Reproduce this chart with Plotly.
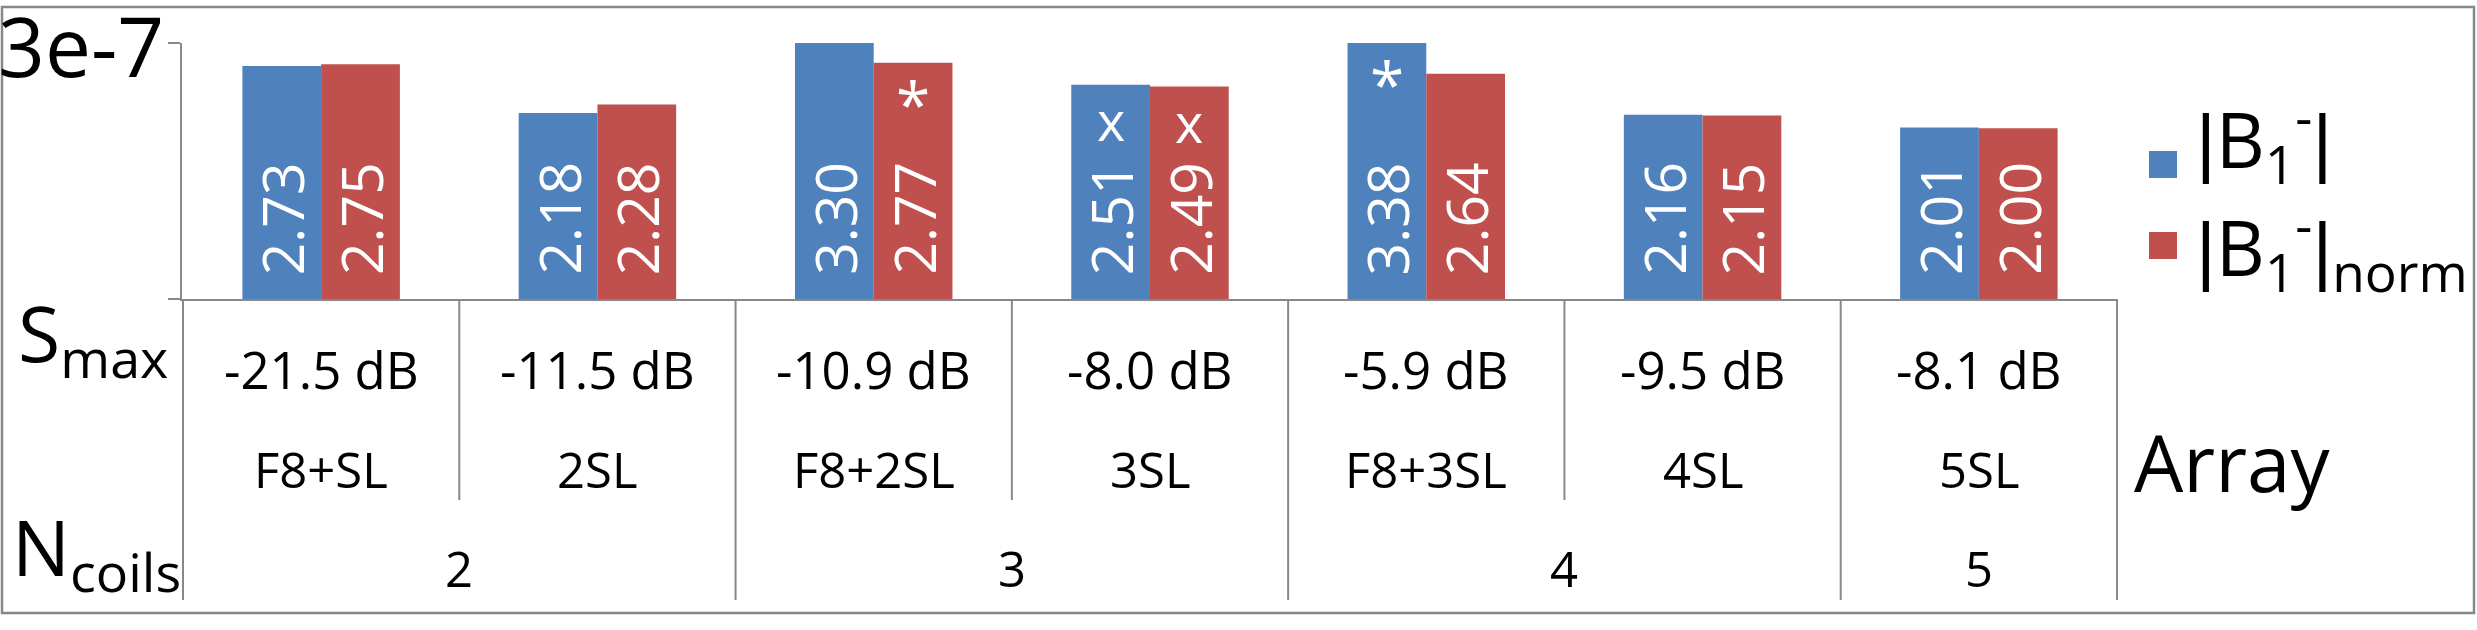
import pandas as pd
import plotly.graph_objects as go

# ----------------------------------
# Data
# ----------------------------------

arrays = ["F8+SL", "2SL", "F8+2SL", "3SL", "F8+3SL", "4SL", "5SL"]
s_max = ["-21.5 dB", "-11.5 dB", "-10.9 dB", "-8.0 dB", "-5.9 dB", "-9.5 dB", "-8.1 dB"]
n_coils = [2, 2, 3, 3, 4, 4, 5]

b1 = [2.73, 2.18, 3.30, 2.51, 3.38, 2.16, 2.01]
b1_norm = [2.75, 2.28, 2.77, 2.49, 2.64, 2.15, 2.00]
b1_marks = ["", "", "", "x", "*", "", ""]
b1_norm_marks = ["", "", "*", "x", "", "", ""]

scale = 1e-7
y_top = 3.0
y_tick_label = "3e-7"

# ----------------------------------
# Style
# ----------------------------------

W, H = 2477, 630
BLUE = "#4F81BD"
RED = "#C0504D"
GRAY = "#888888"
FONT = "Open Sans"
BARGAP = 0.43
BAR = '<span style="font-family:Liberation Sans">|</span>'


def px(x):
    return x / W


def py(y):
    return 1 - y / H


fig = go.Figure()

series = [
    (f"{BAR}B<sub>1</sub><sup>-</sup>{BAR}", b1, b1_marks, BLUE, -1),
    (f"{BAR}B<sub>1</sub><sup>-</sup>{BAR}<sub>norm</sub>", b1_norm, b1_norm_marks, RED, 1),
]

for name, vals, marks, color, side in series:
    fig.add_trace(go.Bar(
        x=arrays,
        y=[v * scale for v in vals],
        name=name,
        marker_color=color,
        marker_line_width=0,
        showlegend=False,
    ))

annotations = []
shapes = []

# value labels and markers inside the bars
off = (1 - BARGAP) / 4
mark_size = {"*": 62, "x": 54}
for name, vals, marks, color, side in series:
    for i, (v, m) in enumerate(zip(vals, marks)):
        annotations.append(dict(
            x=i + side * off, y=0, xref="x", yref="y",
            text=f"{v:.2f}", textangle=-90, showarrow=False,
            xanchor="center", yanchor="bottom", yshift=22,
            font=dict(family=FONT, size=57, color="white"),
        ))
        if m:
            annotations.append(dict(
                x=i + side * off, y=min(v, y_top) * scale, xref="x", yref="y",
                text=m, showarrow=False,
                xanchor="center", yanchor="top", yshift=4,
                font=dict(family=FONT, size=mark_size[m], color="white"),
            ))

# y tick label, set big in the corner
annotations.append(dict(
    x=0, y=y_top * scale, xref="paper", yref="y",
    text=y_tick_label, showarrow=False,
    xanchor="left", yanchor="middle", xshift=-4, yshift=-2,
    font=dict(family=FONT, size=82, color="black"),
))

# table below the axis
for i, (a, s) in enumerate(zip(arrays, s_max)):
    annotations.append(dict(
        x=i, y=py(369), xref="x", yref="paper", text=s, showarrow=False,
        xanchor="center", yanchor="middle",
        font=dict(family=FONT, size=51, color="black"),
    ))
    annotations.append(dict(
        x=i, y=py(469), xref="x", yref="paper", text=a, showarrow=False,
        xanchor="center", yanchor="middle",
        font=dict(family=FONT, size=49, color="black"),
    ))

groups = pd.DataFrame({"idx": range(len(arrays)), "n": n_coils})
centers = groups.groupby("n")["idx"].mean()
for n, c in centers.items():
    annotations.append(dict(
        x=c, y=py(568), xref="x", yref="paper", text=str(n), showarrow=False,
        xanchor="center", yanchor="middle",
        font=dict(family=FONT, size=49, color="black"),
    ))

for k in range(len(arrays) + 1):
    edge = k == 0 or k == len(arrays) or n_coils[k] != n_coils[k - 1]
    shapes.append(dict(
        type="line", xref="x", yref="paper",
        x0=k - 0.5, x1=k - 0.5, y0=py(299), y1=py(600 if edge else 500),
        line=dict(color=GRAY, width=2),
    ))

# row / axis titles
annotations += [
    dict(x=px(16), y=py(278), xref="paper", yref="paper",
         text="S<sub>max</sub>", showarrow=False, xanchor="left", yanchor="top",
         font=dict(family=FONT, size=77, color="black")),
    dict(x=px(10), y=py(492), xref="paper", yref="paper",
         text="N<sub>coils</sub>", showarrow=False, xanchor="left", yanchor="top",
         font=dict(family=FONT, size=77, color="black")),
    dict(x=px(2132), y=py(462), xref="paper", yref="paper",
         text="Array", showarrow=False, xanchor="left", yanchor="middle",
         font=dict(family=FONT, size=78, color="black")),
]

# legend
for k, (name, vals, marks, color, side) in enumerate(series):
    top = 151 + 81 * k
    shapes.append(dict(
        type="rect", xref="paper", yref="paper",
        x0=px(2149), x1=px(2177), y0=py(top + 27), y1=py(top),
        fillcolor=color, line_width=0,
    ))
    annotations.append(dict(
        x=px(2194), y=py(77 + 108 * k), xref="paper", yref="paper",
        text=name, showarrow=False, xanchor="left", yanchor="top",
        font=dict(family=FONT, size=76, color="black"),
    ))

# outer frame
shapes.append(dict(
    type="rect", xref="paper", yref="paper",
    x0=px(2), x1=px(2474), y0=py(613), y1=py(7),
    line=dict(color=GRAY, width=2.5), fillcolor="rgba(0,0,0,0)",
))

fig.update_layout(
    width=W,
    height=H,
    margin=dict(l=0, r=0, t=0, b=0),
    paper_bgcolor="white",
    plot_bgcolor="white",
    barmode="group",
    bargap=BARGAP,
    bargroupgap=0,
    showlegend=False,
    annotations=annotations,
    shapes=shapes,
    font=dict(family=FONT, color="black"),
    xaxis=dict(
        domain=[px(182), px(2118)],
        showticklabels=False,
        ticks="",
        showgrid=False,
        showline=True,
        linecolor=GRAY,
        linewidth=2,
        automargin=False,
    ),
    yaxis=dict(
        domain=[py(299), py(43)],
        range=[0, y_top * scale],
        tickvals=[0, y_top * scale],
        showticklabels=False,
        ticks="outside",
        ticklen=12,
        tickwidth=2,
        tickcolor=GRAY,
        showgrid=True,
        gridcolor=GRAY,
        gridwidth=2,
        showline=True,
        linecolor=GRAY,
        linewidth=2,
        zeroline=False,
        automargin=False,
    ),
)

fig.write_html(
    "out.html",
    config={"displayModeBar": False},
    post_script="document.body.style.margin='0';document.body.style.overflow='hidden';",
)
